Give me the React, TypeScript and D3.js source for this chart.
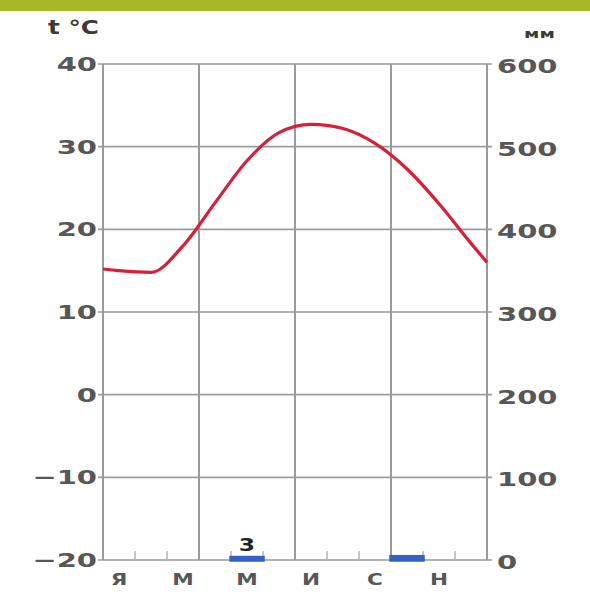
import React from 'react';
import * as d3 from 'd3';

const months = ['Я', 'Ф', 'М', 'А', 'М', 'И', 'И', 'А', 'С', 'О', 'Н', 'Д'];
const shownMonthIdx = [0, 2, 4, 6, 8, 10];
const temperature = [15.0, 14.8, 18.0, 23.2, 28.3, 31.7, 32.7, 32.2, 30.4, 27.3, 23.1, 18.3];
const tempEdgeStart = 15.2;
const tempEdgeEnd = 16.0;
const precipitation = [0, 0, 0, 0, 3, 0, 0, 0, 0, 4, 0, 0];
const precipLabelMonth = 4;
const precipLabel = '3';
const tempTicks = [-20, -10, 0, 10, 20, 30, 40];
const precipTicks = [0, 100, 200, 300, 400, 500, 600];
const majorMonthIdx = [0, 3, 6, 9, 12];

const W = 590;
const H = 599;
const left = 103;
const right = 487;
const top = 64;
const bottom = 560;

export default function App() {
  const x = d3.scaleBand<number>().domain(d3.range(12)).range([left, right]).padding(0);
  const bw = x.bandwidth();
  const boundary = (i: number) => left + i * bw;
  const yT = d3.scaleLinear().domain([-20, 40]).range([bottom, top]);
  const yP = d3.scaleLinear().domain([0, 600]).range([bottom, top]);

  const pts: [number, number][] = [
    [left, yT(tempEdgeStart)],
    ...temperature.map((t, i) => [(x(i) as number) + bw / 2, yT(t)] as [number, number]),
    [right, yT(tempEdgeEnd)],
  ];
  const line = d3.line().curve(d3.curveMonotoneX)(pts) || '';

  const txtFill = '#575757';
  const grid = '#9a9a9a';
  const font = 'DejaVu Sans, sans-serif';

  return (
    <svg width={W} height={H} style={{ position: 'absolute', left: 0, top: 0, background: '#fff' }}>
      <rect x={0} y={0} width={W} height={11} fill="#a6b925" />
      {tempTicks.map((t) => (
        <g key={'h' + t}>
          <line x1={left - 5} x2={right + 5} y1={yT(t)} y2={yT(t)} stroke={grid} strokeWidth={1.6} />
          <text
            transform={`translate(${left - 6},${yT(t) + 7}) scale(1.45,1)`}
            textAnchor="end"
            fontFamily={font}
            fontSize={20}
            fontWeight="bold"
            fill={txtFill}
          >
            {t < 0 ? '\u2212' + Math.abs(t) : String(t)}
          </text>
        </g>
      ))}
      {precipTicks.map((p) => (
        <text
          key={'p' + p}
          transform={`translate(${right + 10},${yP(p) + 9}) scale(1.45,1)`}
          textAnchor="start"
          fontFamily={font}
          fontSize={20}
          fontWeight="bold"
          fill={txtFill}
        >
          {String(p)}
        </text>
      ))}
      {majorMonthIdx.map((i) => (
        <line key={'v' + i} x1={boundary(i)} x2={boundary(i)} y1={top} y2={bottom} stroke={grid} strokeWidth={2} />
      ))}
      {d3.range(1, 12)
        .filter((i) => i % 3 !== 0)
        .map((i) => (
          <line key={'m' + i} x1={boundary(i)} x2={boundary(i)} y1={bottom - 9} y2={bottom} stroke="#b5b5b5" strokeWidth={1.5} />
        ))}
      {precipitation.map((p, i) =>
        p > 0 ? (
          <rect
            key={'b' + i}
            x={x(i) as number}
            y={yP(p)}
            width={bw}
            height={bottom - yP(p)}
            fill="#3462c2"
            stroke="#3462c2"
            strokeWidth={3.5}
          />
        ) : null
      )}
      <text
        transform={`translate(${(x(precipLabelMonth) as number) + bw / 2},${yP(precipitation[precipLabelMonth]) - 7}) scale(1.3,1)`}
        textAnchor="middle"
        fontFamily={font}
        fontSize={18}
        fontWeight="bold"
        fill="#222"
      >
        {precipLabel}
      </text>
      <path d={line} fill="none" stroke="#d81f3a" strokeWidth={3.2} strokeLinejoin="round" />
      {shownMonthIdx.map((i) => (
        <text
          key={'ml' + i}
          transform={`translate(${(x(i) as number) + bw / 2},${bottom + 25}) scale(1.35,1)`}
          textAnchor="middle"
          fontFamily={font}
          fontSize={16}
          fontWeight="bold"
          fill={txtFill}
        >
          {months[i]}
        </text>
      ))}
      <text transform={`translate(48,34) scale(1.3,1)`} fontFamily={font} fontSize={19} fontWeight="bold" fill="#3a3a3a">
        t °C
      </text>
      <text transform={`translate(524,38) scale(1.45,1)`} fontFamily={font} fontSize={13} fontWeight="bold" fill="#3a3a3a">
        мм
      </text>
    </svg>
  );
}
